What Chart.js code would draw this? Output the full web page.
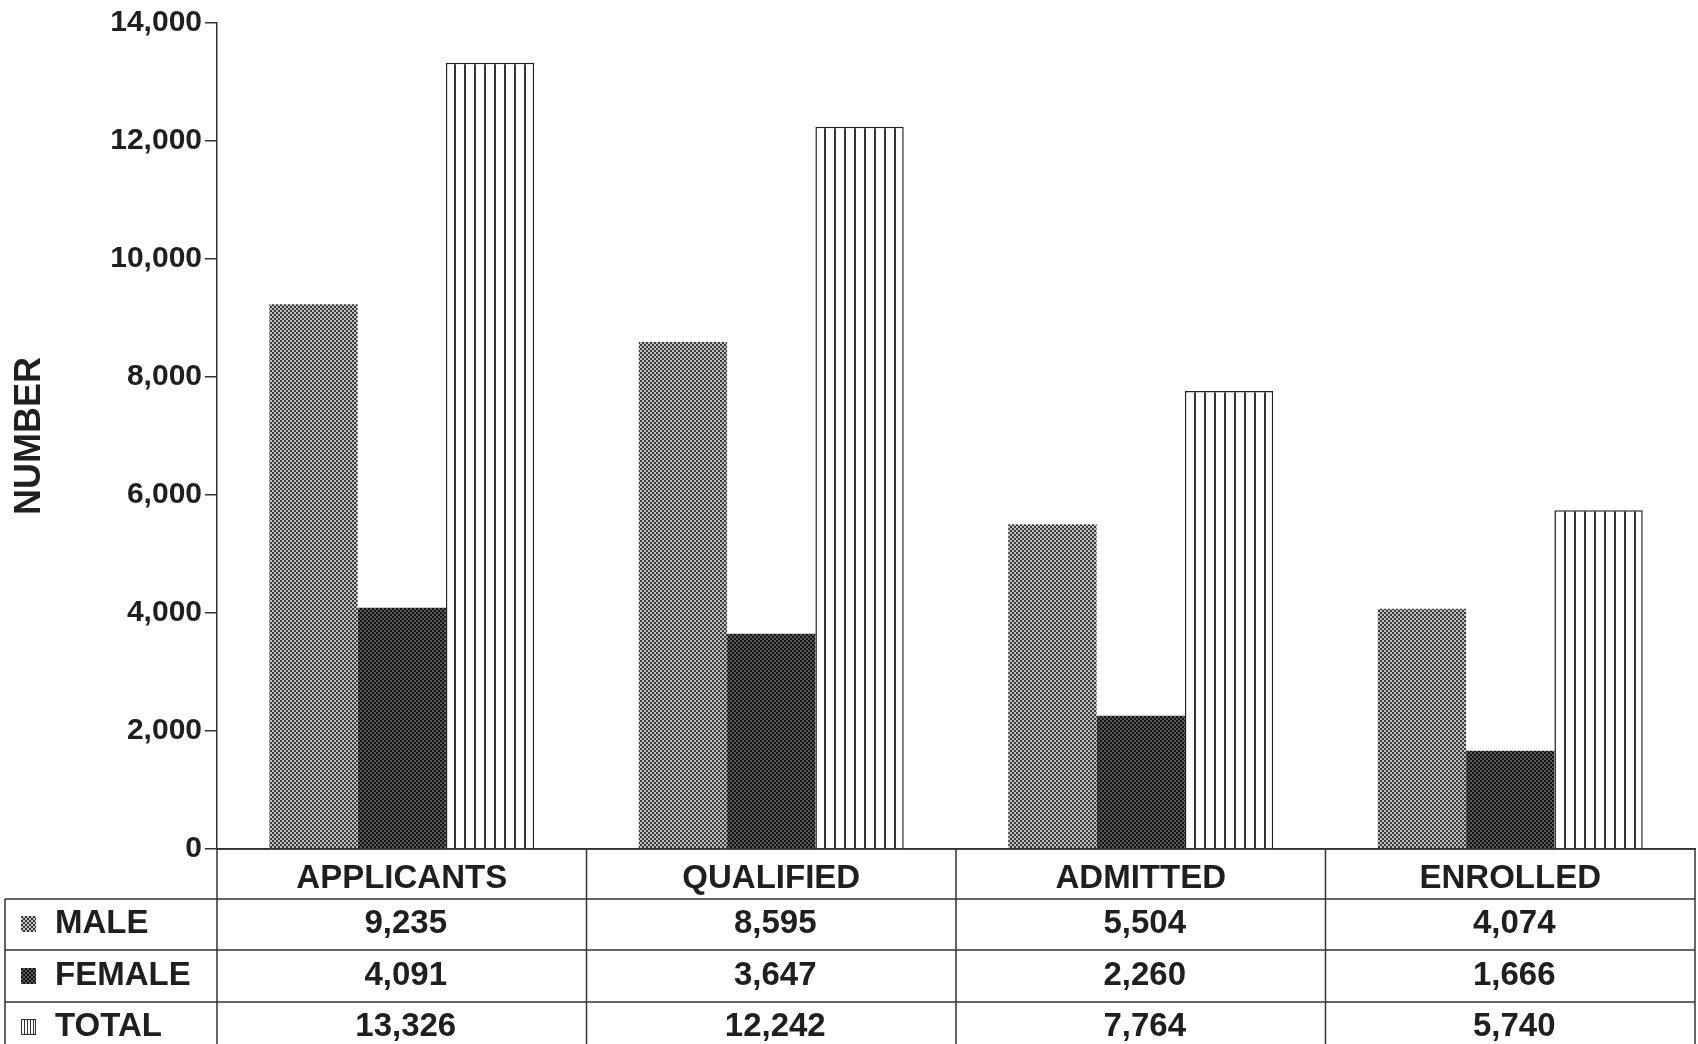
<!DOCTYPE html>
<html><head><meta charset="utf-8">
<script src="https://cdn.jsdelivr.net/npm/chart.js@4.4.0/dist/chart.umd.min.js"></script>
<style>html,body{margin:0;padding:0;background:#ffffff;}#wrap{width:1698px;height:1044px;position:relative;}</style>
</head><body><div id="wrap"><canvas id="c" width="1698" height="1044"></canvas></div>
<script>
const categories = ['APPLICANTS', 'QUALIFIED', 'ADMITTED', 'ENROLLED'];
const seriesNames = ['MALE', 'FEMALE', 'TOTAL'];
const maleValues = [9235, 8595, 5504, 4074];
const femaleValues = [4091, 3647, 2260, 1666];
const totalValues = [13326, 12242, 7764, 5740];
const yTicks = [0, 2000, 4000, 6000, 8000, 10000, 12000, 14000];
const yTickLabels = ['0', '2,000', '4,000', '6,000', '8,000', '10,000', '12,000', '14,000'];
const tableValueLabels = [
  ['9,235', '8,595', '5,504', '4,074'],
  ['4,091', '3,647', '2,260', '1,666'],
  ['13,326', '12,242', '7,764', '5,740']
];
const yAxisTitle = 'NUMBER';

const TEXT = '#1f1f1f';
const LINE = '#333333';
const FONT = '"Liberation Sans", Arial, sans-serif';

function checker(dark, light, cell) {
  const c = document.createElement('canvas');
  c.width = cell * 2; c.height = cell * 2;
  const g = c.getContext('2d');
  g.fillStyle = light; g.fillRect(0, 0, cell * 2, cell * 2);
  g.fillStyle = dark; g.fillRect(0, 0, cell, cell); g.fillRect(cell, cell, cell, cell);
  return g.createPattern(c, 'repeat');
}
function stripes(w, lw) {
  const c = document.createElement('canvas');
  c.width = w; c.height = 10;
  const g = c.getContext('2d');
  g.fillStyle = '#ffffff'; g.fillRect(0, 0, w, 10);
  g.fillStyle = '#333333'; g.fillRect(Math.floor(w / 2) - 1, 0, lw, 10);
  return g.createPattern(c, 'repeat');
}
const patterns = [checker('#3a3a3a', '#c0c0c0', 2), checker('#141414', '#5a5a5a', 2), stripes(10, 2)];
const swatchPatterns = [patterns[0], patterns[1], stripes(3, 1)];

const tablePlugin = {
  id: 'dataTable',
  afterDraw(chart) {
    const ctx = chart.ctx;
    const xs = chart.scales.x;
    const area = chart.chartArea;
    const base = area.bottom;
    const rowLines = [899, 950, 1002];
    const bottom = 1044;
    const leftX = 5;
    const n = categories.length;
    const colW = (area.right - area.left) / n;
    ctx.save();
    ctx.strokeStyle = LINE;
    ctx.lineWidth = 1.5;
    ctx.beginPath();
    ctx.moveTo(area.left, base); ctx.lineTo(area.right, base);
    rowLines.forEach(y => { ctx.moveTo(leftX, y); ctx.lineTo(area.right, y); });
    ctx.moveTo(leftX, rowLines[0]); ctx.lineTo(leftX, bottom);
    for (let i = 0; i <= n; i++) {
      const x = area.left + colW * i;
      ctx.moveTo(x, base); ctx.lineTo(x, bottom);
    }
    ctx.stroke();

    ctx.textBaseline = 'middle';
    ctx.font = 'bold 33px ' + FONT;
    const rowCenters = [924, 976, 1027];
    seriesNames.forEach((name, r) => {
      const cy = rowCenters[r];
      ctx.save();
      ctx.translate(21, cy - 8);
      ctx.fillStyle = swatchPatterns[r];
      ctx.fillRect(0, 0, 15, 16);
      if (r === 2) { ctx.strokeStyle = '#333'; ctx.lineWidth = 1; ctx.strokeRect(0.5, 0.5, 14, 15); }
      ctx.restore();
      ctx.fillStyle = TEXT;
      ctx.textAlign = 'left';
      ctx.fillText(name, 55, cy);
      ctx.textAlign = 'center';
      for (let i = 0; i < n; i++) {
        ctx.fillText(tableValueLabels[r][i], xs.getPixelForValue(i) + 4, cy);
      }
    });
    ctx.restore();
  }
};

new Chart(document.getElementById('c'), {
  type: 'bar',
  data: {
    labels: categories,
    datasets: [
      { label: seriesNames[0], data: maleValues, backgroundColor: patterns[0], borderWidth: 0 },
      { label: seriesNames[1], data: femaleValues, backgroundColor: patterns[1], borderWidth: 0 },
      { label: seriesNames[2], data: totalValues, backgroundColor: patterns[2], borderColor: '#222', borderWidth: 1.5 }
    ]
  },
  options: {
    responsive: false,
    animation: false,
    devicePixelRatio: 1,
    layout: { padding: { top: 23, right: 3, left: 0, bottom: 0 } },
    datasets: { bar: { categoryPercentage: 0.717, barPercentage: 1.0 } },
    plugins: { legend: { display: false }, tooltip: { enabled: false } },
    scales: {
      x: {
        grid: { display: false, drawTicks: false },
        border: { display: true, color: LINE, width: 1.5 },
        ticks: { color: TEXT, font: { family: FONT, size: 33, weight: 'bold' }, padding: 10, maxRotation: 0, autoSkip: false },
        afterFit(scale) { scale.height = 195; }
      },
      y: {
        min: 0, max: 14000,
        afterBuildTicks(scale) { scale.ticks = yTicks.map(v => ({ value: v })); },
        grid: { drawOnChartArea: false, drawTicks: true, tickLength: 12, color: LINE, lineWidth: 1.5 },
        border: { display: true, color: LINE, width: 1.5 },
        ticks: {
          color: TEXT, padding: 3,
          font: { family: FONT, size: 30, weight: 'bold' },
          callback: (v) => { const i = yTicks.indexOf(v); return i >= 0 ? yTickLabels[i] : ''; }
        },
        title: { display: true, text: yAxisTitle, color: TEXT, font: { family: FONT, size: 36, weight: 'bold' }, padding: { top: 8, bottom: 0 } },
        afterFit(scale) { scale.width = 217; }
      }
    }
  },
  plugins: [tablePlugin]
});
</script></body></html>
